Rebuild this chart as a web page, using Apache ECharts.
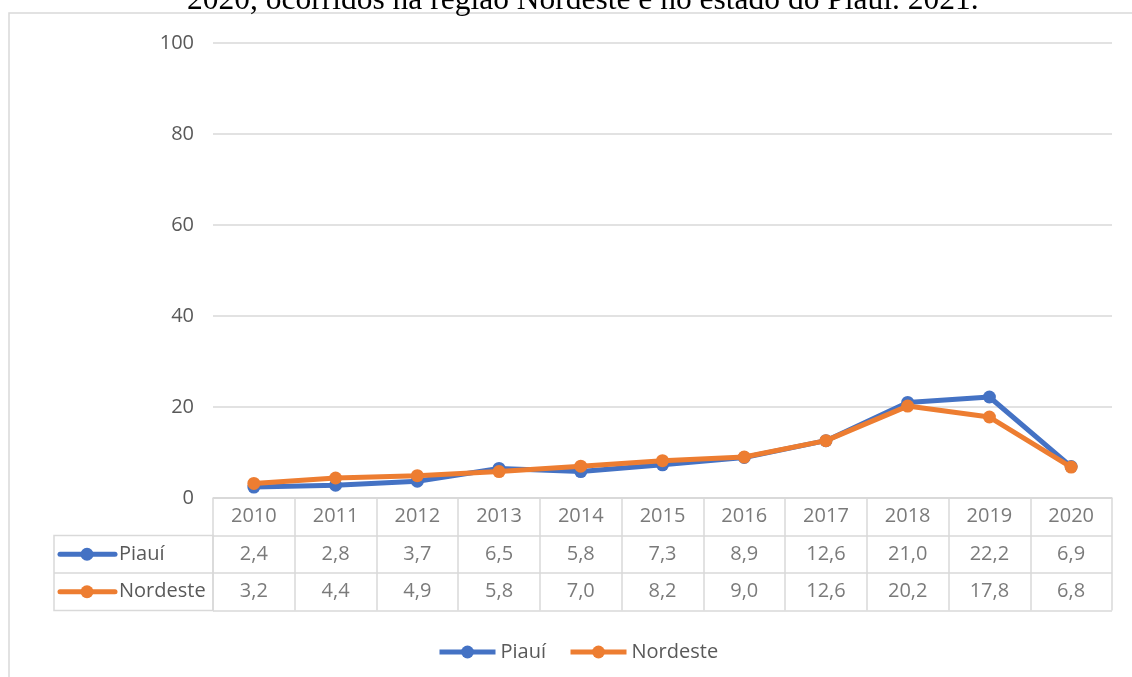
<!DOCTYPE html>
<html><head><meta charset="utf-8">
<script src="https://cdn.jsdelivr.net/npm/echarts@6/dist/echarts.min.js"></script>
<style>html,body{margin:0;padding:0;background:#fff}#c{width:1132px;height:677px}</style>
</head><body><div id="c"></div>
<script>
var titleText = '2020, ocorridos na região Nordeste e no estado do Piauí. 2021.';
var years = ['2010','2011','2012','2013','2014','2015','2016','2017','2018','2019','2020'];
var piaui = [2.4, 2.8, 3.7, 6.5, 5.8, 7.3, 8.9, 12.6, 21.0, 22.2, 6.9];
var nordeste = [3.2, 4.4, 4.9, 5.8, 7.0, 8.2, 9.0, 12.6, 20.2, 17.8, 6.8];
var yTicks = [0, 20, 40, 60, 80, 100];
var seriesNames = ['Piauí', 'Nordeste'];
var colors = ['#4472C4', '#ED7D31'];

var fmt = function (v) { return v.toFixed(1).replace('.', ','); };
var rowKeys = ['h', 'Piauí', 'Nordeste'];
var cells = [];
years.forEach(function (y, i) {
  cells.push({ value: [i, 'h'], txt: y });
  cells.push({ value: [i, 'Piauí'], txt: fmt(piaui[i]) });
  cells.push({ value: [i, 'Nordeste'], txt: fmt(nordeste[i]) });
});

var GL = 213, GR = 20, GT = 43, GB = 498;
var rowH = 37.5;
var textCol = '#595959', lineCol = '#d9d9d9';
var font = '"Open Sans", Lato, sans-serif';
var fs = 20;

var chart = echarts.init(document.getElementById('c'));
function legendIcon(y, color, name) {
  return [
    { type: 'line', shape: { x1: 60, y1: y, x2: 115, y2: y }, style: { stroke: color, lineWidth: 5, lineCap: 'round' } },
    { type: 'circle', shape: { cx: 87, cy: y, r: 6.5 }, style: { fill: color } },
    { type: 'text', style: { x: 119, y: y, text: name, fill: textCol, font: fs + 'px ' + font, textVerticalAlign: 'middle' } }
  ];
}
var rowY1 = GB + rowH * 1.5, rowY2 = GB + rowH * 2.5;
chart.setOption({
  animation: false,
  title: { text: titleText, left: 182, top: -20, textStyle: { fontFamily: '"Liberation Serif", serif', fontWeight: 'normal', fontSize: 31.5, color: '#000' } },
  graphic: [
    { type: 'rect', shape: { x: 9, y: 13, width: 1300, height: 900 }, style: { fill: null, stroke: lineCol, lineWidth: 1.5 }, z: -10 },
    { type: 'rect', shape: { x: 54, y: GB + rowH, width: GL - 54, height: rowH * 2 }, style: { fill: null, stroke: lineCol, lineWidth: 1.5 } },
    { type: 'line', shape: { x1: 54, y1: GB + rowH * 2, x2: GL, y2: GB + rowH * 2 }, style: { stroke: lineCol, lineWidth: 1.5 } }
  ].concat(legendIcon(rowY1, colors[0], seriesNames[0]), legendIcon(rowY2, colors[1], seriesNames[1])),
  legend: {
    data: seriesNames, left: 432, top: 637, itemWidth: 56, itemHeight: 16, itemGap: 22,
    lineStyle: { width: 5 },
    textStyle: { color: textCol, fontSize: fs, fontFamily: font }
  },
  grid: [
    { left: GL, right: GR, top: GT, height: GB - GT },
    { left: GL, right: GR, top: GB, height: rowH * 3 }
  ],
  xAxis: [
    { type: 'category', data: years, gridIndex: 0, boundaryGap: true,
      axisLine: { lineStyle: { color: lineCol, width: 1.5 } }, axisTick: { show: false }, axisLabel: { show: false } },
    { type: 'category', data: years, gridIndex: 1, boundaryGap: true,
      axisLine: { show: false }, axisTick: { show: false }, axisLabel: { show: false },
      splitLine: { show: true, lineStyle: { color: lineCol, width: 1.5 } } }
  ],
  yAxis: [
    { type: 'value', min: yTicks[0], max: yTicks[yTicks.length - 1], interval: yTicks[1] - yTicks[0], gridIndex: 0,
      axisLine: { show: false }, axisTick: { show: false },
      axisLabel: { color: textCol, fontSize: fs, fontFamily: font, margin: 19 },
      splitLine: { lineStyle: { color: lineCol, width: 1.5 } } },
    { type: 'category', data: rowKeys, inverse: true, gridIndex: 1, boundaryGap: true,
      axisLine: { show: false }, axisTick: { show: false }, axisLabel: { show: false },
      splitLine: { show: true, interval: 0, lineStyle: { color: lineCol, width: 1.5 } } }
  ],
  series: [
    { name: seriesNames[0], type: 'line', data: piaui, xAxisIndex: 0, yAxisIndex: 0,
      symbol: 'circle', symbolSize: 13, lineStyle: { width: 5, color: colors[0] }, itemStyle: { color: colors[0] }, z: 2 },
    { name: seriesNames[1], type: 'line', data: nordeste, xAxisIndex: 0, yAxisIndex: 0,
      symbol: 'circle', symbolSize: 13, lineStyle: { width: 5, color: colors[1] }, itemStyle: { color: colors[1] }, z: 3 },
    { name: 'tabela', type: 'scatter', data: cells, xAxisIndex: 1, yAxisIndex: 1, symbolSize: 0, silent: true,
      label: { show: true, position: 'inside', color: textCol, fontSize: fs, fontFamily: font,
        formatter: function (p) { return p.data.txt; } } }
  ]
});
</script></body></html>
